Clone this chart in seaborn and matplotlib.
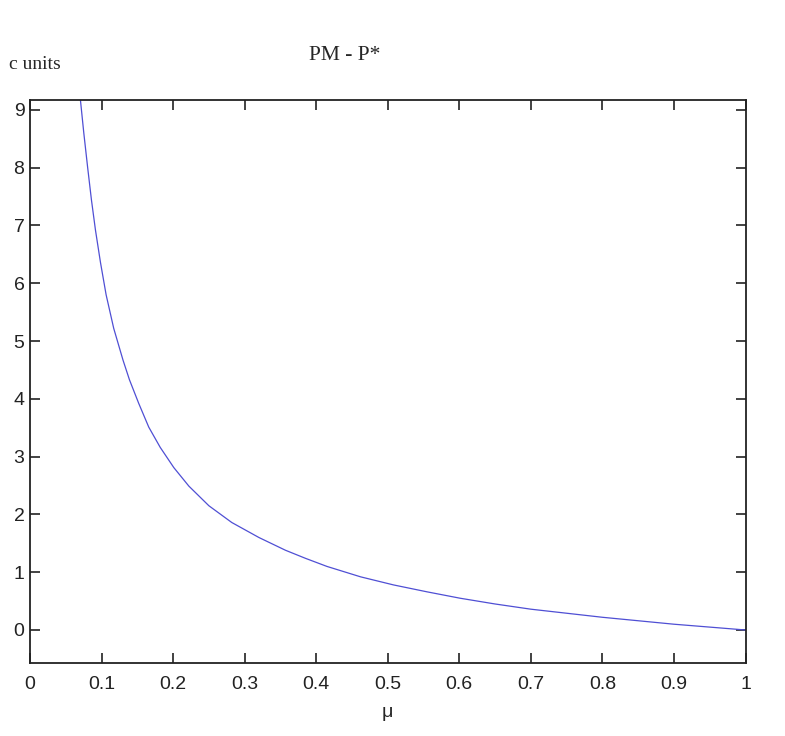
import numpy as np
import matplotlib
matplotlib.use("Agg")
import matplotlib.pyplot as plt
import seaborn as sns

# values
mu = [0.066, 0.0705, 0.0752, 0.0807, 0.0859, 0.0915, 0.0985, 0.1064, 0.117,
      0.130, 0.139, 0.152, 0.166, 0.182, 0.201, 0.222, 0.250, 0.282, 0.320,
      0.357, 0.385, 0.415, 0.462, 0.508, 0.555, 0.601, 0.65, 0.70, 0.75,
      0.80, 0.85, 0.90, 0.95, 1.0]
pm_minus_pstar = [9.80, 9.17, 8.60, 7.99, 7.44, 6.92, 6.36, 5.80, 5.22,
                  4.67, 4.33, 3.92, 3.51, 3.16, 2.81, 2.49, 2.15, 1.86, 1.60,
                  1.38, 1.24, 1.10, 0.92, 0.78, 0.66, 0.55, 0.45, 0.36, 0.29,
                  0.22, 0.16, 0.10, 0.05, 0.0]

xticks = np.round(np.arange(0, 1.01, 0.1), 1)
xtick_labels = ["0", "0.1", "0.2", "0.3", "0.4", "0.5", "0.6", "0.7", "0.8", "0.9", "1"]
yticks = list(range(0, 10))

sns.set_style("ticks")
plt.rcParams["font.family"] = ["Liberation Sans", "DejaVu Sans"]

fig = plt.figure(figsize=(7.85, 7.36), dpi=100)
ax = fig.add_axes([0.0382, 0.0988, 0.9115, 0.7653])

sns.lineplot(x=mu, y=pm_minus_pstar, ax=ax, color="#4f4fd4", linewidth=0.9)

ax.set_xlim(0, 1)
ax.set_ylim(-0.576, 9.17)
ax.set_xticks(xticks)
ax.set_xticklabels(xtick_labels)
ax.set_yticks(yticks)

ax.tick_params(direction="in", length=7, width=1.2, top=True, right=True,
               labelsize=14, colors="#222222")
ax.tick_params(axis="x", pad=9)
ax.tick_params(axis="y", pad=4)
for s in ax.spines.values():
    s.set_linewidth(1.3)
    s.set_color("#222222")

ax.set_xlabel("μ", fontsize=14, labelpad=8)
fig.text(0.4395, 0.925, "PM - P*", family="Liberation Serif", fontsize=15.5,
         ha="center", va="center")
fig.text(0.012, 0.912, "c units", family="Liberation Serif", fontsize=14,
         ha="left", va="center")

fig.savefig("out.png", dpi=100)
